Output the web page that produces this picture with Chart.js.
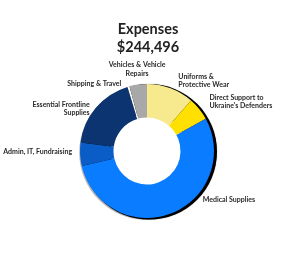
<!DOCTYPE html>
<html>
<head>
<meta charset="utf-8">
<script src="https://cdn.jsdelivr.net/npm/chart.js@4/dist/chart.umd.min.js"></script>
<style>
  html, body { margin: 0; padding: 0; background: #fff; }
  #wrap { width: 300px; height: 256px; }
</style>
</head>
<body>
<div id="wrap"><canvas id="myChart" width="300" height="256"></canvas></div>
<script>
// data (total $244,496)
let categories = [
  ["Uniforms &", "Protective Wear"],
  ["Direct Support to", "Ukraine's Defenders"],
  ["Medical Supplies"],
  ["Admin, IT, Fundraising"],
  ["Essential Frontline", "Supplies"],
  ["Shipping & Travel"],
  ["Vehicles & Vehicle", "Repairs"]
];
let amounts = [27900, 13700, 133000, 13700, 44700, 1200, 10296];
let titleLines = ["Expenses", "$244,496"];

let sliceColors = ["#F7E98E", "#FFE000", "#0A7CFF", "#0A5CC6", "#0B3470", "#FFFFFF", "#A8A8A8"];
let labelFont = "bold 7px Lato";
// small hand nudges for labels that don't sit at the slice middle
let labelNudge = { 0: [5, 0], 1: [4, -2], 2: [29, -21], 3: [0, -3], 4: [0, 6], 5: [-5, 5] };

function ring(ctx, x, y, r1, r0) {
  ctx.beginPath();
  ctx.arc(x, y, r1, 0, Math.PI * 2);
  ctx.arc(x, y, r0, 0, Math.PI * 2, true);
  ctx.fill();
}

// dark rim behind the ring (offset to the right), gray rim lower left
const ringShadow = {
  id: "ringShadow",
  beforeDatasetsDraw(chart) {
    let arc = chart.getDatasetMeta(0).data[0];
    if (!arc) return;
    let ctx = chart.ctx;
    let inner = arc.innerRadius + 5;
    ctx.save();
    ctx.fillStyle = "#b8b8b8";
    ring(ctx, arc.x - 0.5, arc.y + 1.5, arc.outerRadius + 0.3, inner);
    ctx.fillStyle = "#000";
    ctx.shadowColor = "rgba(0,0,0,0.5)";
    ctx.shadowBlur = 1;
    ring(ctx, arc.x + 2.2, arc.y + 0.8, arc.outerRadius + 0.8, inner);
    ctx.restore();
  }
};

// title and outside labels
const outsideLabels = {
  id: "outsideLabels",
  afterDraw(chart) {
    let ctx = chart.ctx;
    ctx.save();
    ctx.fillStyle = "#222";
    ctx.textAlign = "center";
    ctx.textBaseline = "middle";
    ctx.font = "bold 14.5px Lato";
    ctx.fillText(titleLines[0], 148, 29);
    ctx.fillText(titleLines[1], 148, 47);

    ctx.font = labelFont;
    ctx.fillStyle = "#2a2a2a";
    let arcs = chart.getDatasetMeta(0).data;
    arcs.forEach(function(a, i) {
      let mid = (a.startAngle + a.endAngle) / 2;
      let r = a.outerRadius + 8;
      let x = a.x + Math.cos(mid) * r;
      let y = a.y + Math.sin(mid) * r;
      if (labelNudge[i]) {
        x += labelNudge[i][0];
        y += labelNudge[i][1];
      }
      let lines = categories[i];
      let lh = 8.5;
      let c = Math.cos(mid);
      if (Math.abs(c) < 0.2) {
        ctx.textAlign = "center";
        // stack above the point
        for (let k = 0; k < lines.length; k++) {
          ctx.fillText(lines[k], x, y - (lines.length - 1 - k) * lh - 3);
        }
        return;
      }
      ctx.textAlign = c > 0 ? "left" : "right";
      let y0 = y - (lines.length - 1) * lh / 2;
      for (let k = 0; k < lines.length; k++) {
        ctx.fillText(lines[k], x, y0 + k * lh);
      }
    });
    ctx.restore();
  }
};

new Chart("myChart", {
  type: "doughnut",
  data: {
    labels: categories.map(l => l.join(" ")),
    datasets: [{
      data: amounts,
      backgroundColor: sliceColors,
      borderWidth: 0
    }]
  },
  options: {
    responsive: false,
    animation: false,
    cutout: "50%",
    layout: { padding: { top: 84, bottom: 38, left: 80, right: 86 } },
    plugins: {
      legend: { display: false },
      tooltip: { enabled: false }
    }
  },
  plugins: [ringShadow, outsideLabels]
});
</script>
</body>
</html>
